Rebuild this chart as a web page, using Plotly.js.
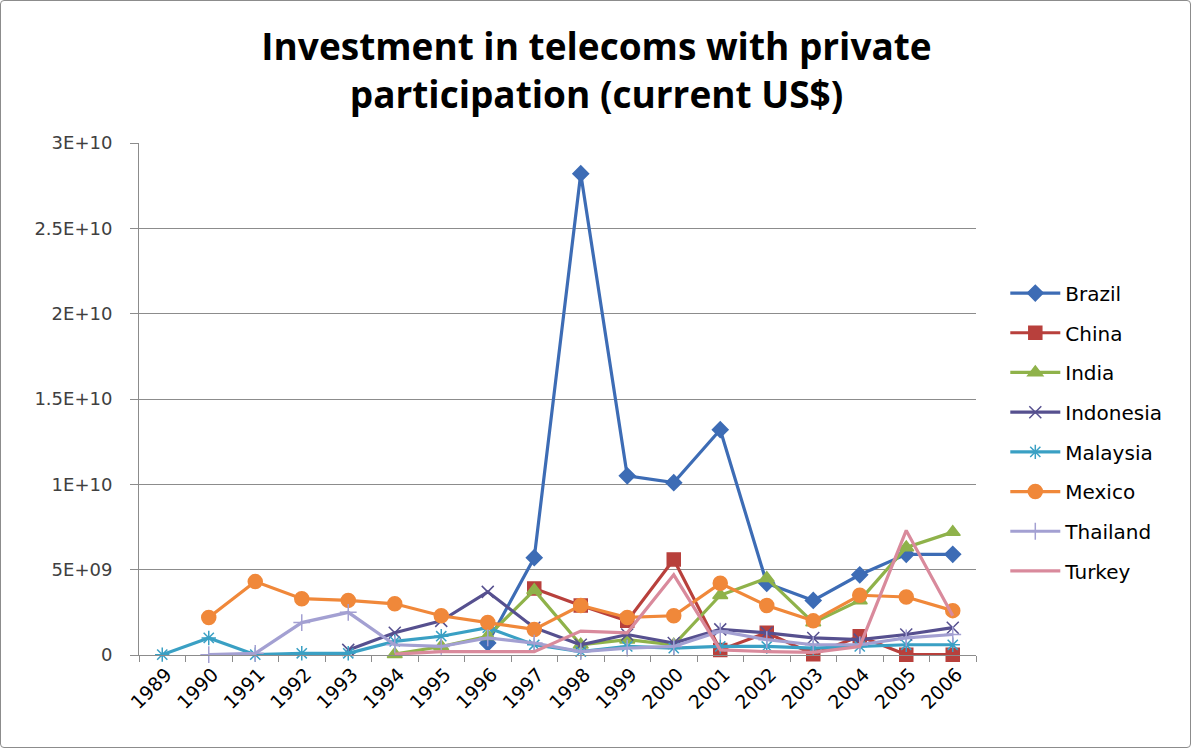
<!DOCTYPE html>
<html><head><meta charset="utf-8">
<script src="https://cdn.plot.ly/plotly-3.0.1.min.js"></script>
<style>
html,body{margin:0;padding:0;background:#fff;}
#chart{width:1191px;height:748px;box-sizing:border-box;border:1px solid #8c8c8c;border-radius:4px;}
</style></head>
<body><div id="chart"></div>
<script>
var years = ["1989","1990","1991","1992","1993","1994","1995","1996","1997","1998","1999","2000","2001","2002","2003","2004","2005","2006"];
var brazil    = [null,null,null,null,null,null,null,0.7e9,5.7e9,28.2e9,10.5e9,10.1e9,13.2e9,4.2e9,3.2e9,4.7e9,5.9e9,5.9e9];
var china     = [null,null,null,null,null,null,null,null,3.9e9,2.9e9,2.0e9,5.6e9,0.3e9,1.3e9,0.05e9,1.1e9,0.02e9,0.02e9];
var india     = [null,null,null,null,null,0.05e9,0.5e9,1.1e9,3.8e9,0.6e9,0.9e9,0.6e9,3.5e9,4.5e9,1.9e9,3.2e9,6.3e9,7.2e9];
var indonesia = [null,null,null,null,0.3e9,1.3e9,2.0e9,3.7e9,1.6e9,0.6e9,1.2e9,0.7e9,1.5e9,1.3e9,1.0e9,0.9e9,1.2e9,1.6e9];
var malaysia  = [0.02e9,1.0e9,0.02e9,0.1e9,0.1e9,0.8e9,1.1e9,1.6e9,0.6e9,0.2e9,0.5e9,0.4e9,0.5e9,0.5e9,0.4e9,0.5e9,0.6e9,0.6e9];
var mexico    = [null,2.2e9,4.3e9,3.3e9,3.2e9,3.0e9,2.3e9,1.9e9,1.5e9,2.9e9,2.2e9,2.3e9,4.2e9,2.9e9,2.0e9,3.5e9,3.4e9,2.6e9];
var thailand  = [null,0.02e9,0.1e9,1.9e9,2.5e9,0.6e9,0.5e9,1.0e9,0.7e9,0.2e9,0.4e9,0.5e9,1.4e9,0.9e9,0.6e9,0.6e9,1.0e9,1.2e9];
var turkey    = [null,null,null,null,null,0.05e9,0.2e9,0.2e9,0.2e9,1.4e9,1.3e9,4.7e9,0.3e9,0.2e9,0.15e9,0.5e9,7.3e9,2.3e9];
var yTickVals = [0,5e9,1e10,1.5e10,2e10,2.5e10,3e10];
var yTickText = ["0","5E+09","1E+10","1.5E+10","2E+10","2.5E+10","3E+10"];

var series = [
  {name:"Brazil", y:brazil, color:"#3d6cb5", symbol:"diamond", size:12},
  {name:"China", y:china, color:"#b8403c", symbol:"square", size:13},
  {name:"India", y:india, color:"#8fb24a", symbol:"triangle-up", size:13},
  {name:"Indonesia", y:indonesia, color:"#56508f", symbol:"x-thin-open", size:12},
  {name:"Malaysia", y:malaysia, color:"#3aa0c4", symbol:"asterisk-open", size:12},
  {name:"Mexico", y:mexico, color:"#f0883a", symbol:"circle", size:14},
  {name:"Thailand", y:thailand, color:"#a3a0d2", symbol:"cross-thin-open", size:12},
  {name:"Turkey", y:turkey, color:"#d98a9c", symbol:"line-ew-open", size:1}
];
var traces = series.map(function(s,i){
  return {
    type:"scatter", mode: s.name==="Turkey" ? "lines" : "lines+markers",
    x:years, y:s.y, name:s.name, legendgroup:"g"+i,
    connectgaps:false, cliponaxis:false,
    line:{color:s.color, width:3.2},
    marker:{symbol:s.symbol, size:s.size, color:s.color, line:{color:s.color, width:1.5}}
  };
});

var layout = {
  width:1191, height:748,
  paper_bgcolor:"rgba(0,0,0,0)", plot_bgcolor:"#fff",
  margin:{l:138, r:216, t:142, b:94},
  font:{family:"'DejaVu Sans', 'Open Sans', sans-serif", color:"#404040", size:18},
  title:{text:"Investment in telecoms with private<br>participation (current US$)",
         font:{family:"'Open Sans', sans-serif", size:37, color:"#000", weight:"bold"},
         x:0.5, xanchor:"center", xref:"container", yref:"container", y:0.921, yanchor:"middle"},
  showlegend:true,
  legend:{x:1.035, xanchor:"left", y:0.745, yanchor:"top", font:{family:"'DejaVu Sans', sans-serif", size:20, color:"#000"},
          traceorder:"grouped", tracegroupgap:10.7, itemwidth:50, bgcolor:"rgba(0,0,0,0)"},
  xaxis:{type:"category", range:[-0.5, 17.5], tickangle:-45, showgrid:false, showline:true, linecolor:"#8c8c8c", linewidth:1,
         ticks:"outside", tickson:"boundaries", ticklen:6, tickcolor:"#8c8c8c", ticklabelshift:4,
         tickfont:{family:"'DejaVu Sans', sans-serif", size:19, color:"#000"}, zeroline:false},
  yaxis:{range:[0,3e10], tickvals:yTickVals, ticktext:yTickText, showgrid:true, gridcolor:"#8c8c8c", gridwidth:1,
         showline:true, linecolor:"#8c8c8c", linewidth:1, ticks:"outside", ticklen:8, tickcolor:"#8c8c8c",
         ticklabelstandoff:14, tickfont:{family:"'DejaVu Sans', sans-serif", size:18, color:"#404040"}, zeroline:false}
};
Plotly.newPlot("chart", traces, layout, {displayModeBar:false, staticPlot:true});
</script></body></html>
